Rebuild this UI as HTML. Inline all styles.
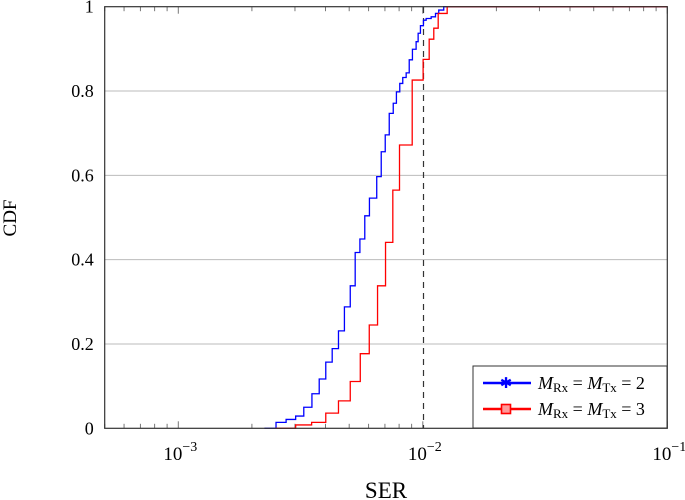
<!DOCTYPE html>
<html><head><meta charset="utf-8"><style>
body{margin:0;background:#fff}
svg{display:block;font-family:"Liberation Serif",serif}
</style></head><body>
<svg id="chart" width="685" height="500" viewBox="0 0 685 500" xmlns="http://www.w3.org/2000/svg">
<g id="grid"></g>
<g id="ticks"></g>
<line x1="423.5" y1="7" x2="423.5" y2="428" stroke="#333" stroke-width="1.2" stroke-dasharray="6,5"/>
<g id="series"></g>
<rect x="104.7" y="6.7" width="562.6" height="421.6" fill="none" stroke="#333" stroke-width="1.2"/>
<g id="labels" font-size="18"></g>
<text x="386" y="498" font-size="23" text-anchor="middle">SER</text>
<text transform="translate(16,218) rotate(-90)" font-size="19" text-anchor="middle">CDF</text>
<g>
<rect x="473" y="366" width="194" height="62" fill="#fff" stroke="#333" stroke-width="1"/>
<g>
<line x1="483" y1="383" x2="531" y2="383" stroke="#00f" stroke-width="2.4"/>
<text x="506" y="388" font-size="15" fill="#00f" text-anchor="middle">✱</text>
<text x="538" y="389" font-size="18"><tspan font-style="italic">M</tspan><tspan font-size="13" dy="3">Rx</tspan><tspan dy="-3"> = </tspan><tspan font-style="italic">M</tspan><tspan font-size="13" dy="3">Tx</tspan><tspan dy="-3"> = 2</tspan></text>
</g>
<g>
<line x1="483" y1="409" x2="531" y2="409" stroke="#f00" stroke-width="2.4"/>
<rect x="501.5" y="404.5" width="9" height="9" fill="#f99" stroke="#f00" stroke-width="1.6"/>
<text x="538" y="415" font-size="18"><tspan font-style="italic">M</tspan><tspan font-size="13" dy="3">Rx</tspan><tspan dy="-3"> = </tspan><tspan font-style="italic">M</tspan><tspan font-size="13" dy="3">Tx</tspan><tspan dy="-3"> = 3</tspan></text>
</g>
</g>
</svg>
<script>
// SER values in units of 1e-3
const blueSER = [2.25,2.51,2.76,3.02,3.26,3.52,3.77,4.01,4.26,4.52,4.78,5.05,5.29,5.53,5.79,6.05,6.48,6.76,7.02,7.29,7.57,7.80,8.05,8.28,8.55,8.80,9.07,9.39,9.57,9.78,10.06,10.32,10.82,11.27,11.62,12.18];
const blueCDF = [0,0.014,0.021,0.029,0.05,0.082,0.117,0.157,0.189,0.231,0.288,0.338,0.417,0.449,0.504,0.546,0.597,0.656,0.696,0.747,0.771,0.798,0.818,0.832,0.843,0.874,0.899,0.917,0.937,0.955,0.968,0.972,0.976,0.984,0.992,1.0];
const redSER = [2.50,3.02,3.51,4.01,4.52,5.05,5.55,6.04,6.53,7.04,7.54,8.03,9.05,10.03,10.62,11.09,11.56,12.58];
const redCDF = [0,0.008,0.014,0.036,0.065,0.111,0.177,0.245,0.338,0.441,0.565,0.672,0.826,0.875,0.923,0.949,0.984,1.0];
const yTicks = [0,0.2,0.4,0.6,0.8,1];
const yTickLabels = ["0","0.2","0.4","0.6","0.8","1"];
const xDecades = [-3,-2,-1];

const X0=104.7,X1=667.3,Y0=428.3,Y1=6.7,LMIN=Math.log10(5e-4),LMAX=-1;
const sx=v=>X0+(Math.log10(v)-LMIN)/(LMAX-LMIN)*(X1-X0);
const sy=v=>Y0-v*(Y0-Y1);
const NS="http://www.w3.org/2000/svg";
function mk(tag,attrs,parent){const e=document.createElementNS(NS,tag);for(const k in attrs)e.setAttribute(k,attrs[k]);parent.appendChild(e);return e;}
const grid=document.getElementById('grid'),ticks=document.getElementById('ticks'),labels=document.getElementById('labels'),series=document.getElementById('series');

yTicks.forEach((t,i)=>{
  const y=sy(t);
  if(t>0&&t<1){const g=mk('line',{x1:X0,x2:X1,y1:y,y2:y,stroke:'#bbb','stroke-width':1},grid);
  
  }
  const tx=mk('text',{x:X0-11,y:y+6,'text-anchor':'end'},labels);
  tx.textContent=yTickLabels[i];
  
  
});
for(let d=-4;d<=-1;d++){
  for(let m=1;m<=9;m++){
    const v=m*Math.pow(10,d);
    if(v<5e-4-1e-12||v>0.1+1e-12)continue;
    const x=sx(v),L=m===1?7:4.5;
    [[Y0,Y0-L],[Y1,Y1+L]].forEach(p=>{
      const t=mk('line',{x1:x,x2:x,y1:p[0],y2:p[1],stroke:'#777','stroke-width':1},ticks);
      
      
    });
  }
}
xDecades.forEach(d=>{
  const x=sx(Math.pow(10,d));
  const t=mk('text',{x:x+2,y:460,'text-anchor':'middle','font-size':19},labels);
  t.innerHTML='10<tspan font-size="14" dy="-9">−'+(-d)+'</tspan>';
  
  
});
function stepPath(xs,ys){
  let d='M'+sx(xs[0]*1e-3)+','+sy(ys[0]);
  for(let i=1;i<xs.length;i++){const x=sx(xs[i]*1e-3);d+=' H'+x+' V'+sy(ys[i]);}
  d+=' H'+X1;
  return d;
}
const pb=mk('path',{d:stepPath(blueSER,blueCDF),fill:'none',stroke:'#00f','stroke-width':1.3},series);


const pr=mk('path',{d:stepPath(redSER,redCDF),fill:'none',stroke:'#f00','stroke-width':1.3},series);


</script>
</body></html>
